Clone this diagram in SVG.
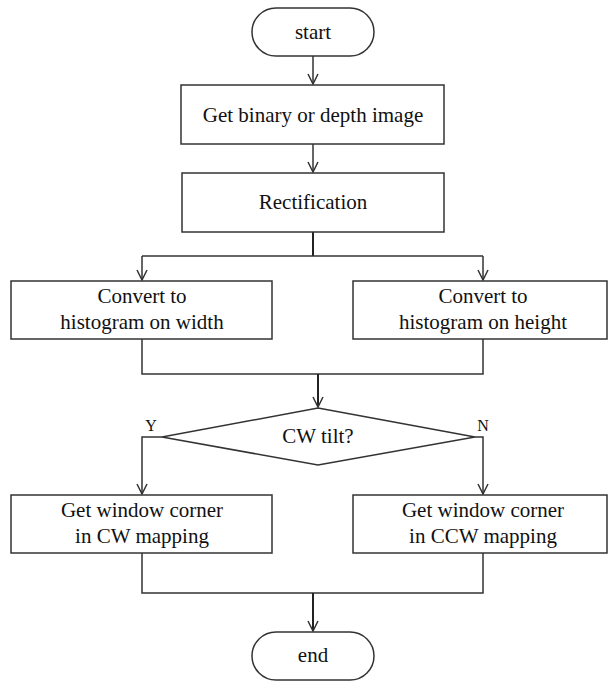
<svg xmlns="http://www.w3.org/2000/svg" width="608" height="681" viewBox="0 0 608 681">
<defs>
<style>
.box{fill:#fff;stroke:#333;stroke-width:1.5}
.ln{fill:none;stroke:#333;stroke-width:1.5}
.thk{fill:none;stroke:#222;stroke-width:2}
text{font-family:"Liberation Serif","Times New Roman",serif;font-size:21px;fill:#111;text-anchor:middle}
</style>
<marker id="ah" markerWidth="14" markerHeight="12" viewBox="0 0 14 12" refX="13" refY="6" orient="auto" markerUnits="userSpaceOnUse">
<path d="M3,1 L13,6 L3,11" fill="none" stroke="#333" stroke-width="1.5"/>
</marker>
</defs>
<rect width="608" height="681" fill="#fff"/>
<g id="connectors">
<line class="ln" x1="313" y1="56" x2="313" y2="84" marker-end="url(#ah)"/>
<line class="ln" x1="313" y1="144" x2="313" y2="172" marker-end="url(#ah)"/>
<polyline class="thk" points="313,232 313,256"/>
<polyline class="ln" points="142,256 483,256"/>
<line class="ln" x1="142" y1="256" x2="142" y2="280" marker-end="url(#ah)"/>
<line class="ln" x1="483" y1="256" x2="483" y2="280" marker-end="url(#ah)"/>
<polyline class="ln" points="142,339 142,374 483,374 483,339"/>
<line class="thk" x1="318" y1="374" x2="318" y2="407" marker-end="url(#ah)"/>
<polyline class="ln" points="162,437 142,437 142,494" marker-end="url(#ah)"/>
<polyline class="ln" points="475,437 483,437 483,494" marker-end="url(#ah)"/>
<polyline class="ln" points="142,553 142,593 483,593 483,553"/>
<line class="thk" x1="313" y1="593" x2="313" y2="631" marker-end="url(#ah)"/>
</g>
<g id="start">
<rect class="box" x="252" y="8" width="122" height="48" rx="24" ry="24"/>
<text x="313" y="39">start</text>
</g>
<g id="get-image">
<rect class="box" x="181" y="85" width="263" height="59"/>
<text x="313" y="122">Get binary or depth image</text>
</g>
<g id="rectification">
<rect class="box" x="182" y="173" width="262" height="59"/>
<text x="313" y="209">Rectification</text>
</g>
<g id="hist-width">
<rect class="box" x="11" y="281" width="261" height="58"/>
<text x="142" y="303">Convert to</text>
<text x="142" y="329">histogram on width</text>
</g>
<g id="hist-height">
<rect class="box" x="353" y="281" width="254" height="58"/>
<text x="483" y="303">Convert to</text>
<text x="483" y="329">histogram on height</text>
</g>
<g id="cw-tilt">
<polygon class="box" points="318,408 475,437 318,465 162,437"/>
<text x="318" y="443">CW tilt?</text>
<text x="151" y="431" style="font-size:16px">Y</text>
<text x="483" y="431" style="font-size:16px">N</text>
</g>
<g id="cw-mapping">
<rect class="box" x="11" y="495" width="261" height="58"/>
<text x="142" y="517">Get window corner</text>
<text x="142" y="543">in CW mapping</text>
</g>
<g id="ccw-mapping">
<rect class="box" x="353" y="495" width="254" height="58"/>
<text x="483" y="517">Get window corner</text>
<text x="483" y="543">in CCW mapping</text>
</g>
<g id="end">
<rect class="box" x="252" y="632" width="122" height="48" rx="24" ry="24"/>
<text x="313" y="662">end</text>
</g>
</svg>
